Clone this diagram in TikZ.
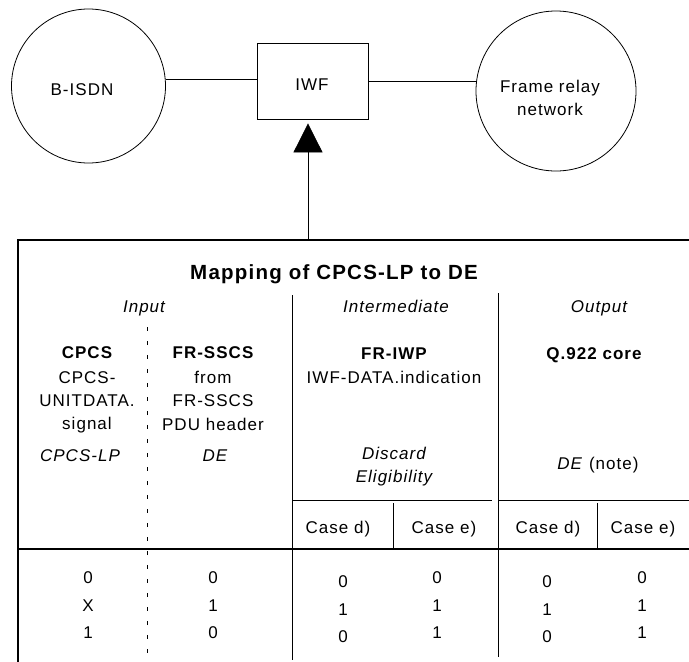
\documentclass[tikz,border=0pt]{standalone}
\usepackage{fontspec}
\setmainfont{Liberation Sans}[LetterSpace=6]
\usetikzlibrary{arrows.meta}

\begin{document}
\begin{tikzpicture}[x=1pt,y=-1pt,
  every node/.style={inner sep=0pt},
  lbl/.style={anchor=base, font=\fontsize{17}{20}\selectfont},
  lblb/.style={anchor=base, font=\fontsize{17}{20}\selectfont\bfseries},
  lbli/.style={anchor=base, font=\fontsize{17}{20}\selectfont\itshape},
  net/.style={draw, circle, line width=0.8pt},
  rule/.style={line width=1.1pt},
  thinrule/.style={line width=0.8pt},
  splitrule/.style={line width=0.8pt, dash pattern=on 4pt off 10pt},
]
\useasboundingbox (0,0) rectangle (689,662);

% --- networks and interworking function ---
\node[net, minimum size=154pt] (bisdn) at (88.5,86) {};
\node[lbl] (bisdntxt) at (82,95) {B-ISDN};
\node[draw, line width=0.8pt, minimum width=111pt, minimum height=76pt] (iwf) at (312.5,81) {};
\node[lbl] (iwftxt) at (312,90) {IWF};
\node[net, minimum size=160pt] (fr) at (556,91) {};
\node[lbl] (frtxta) at (550,92) {Frame relay};
\node[lbl] (frtxtb) at (550,115) {network};

\draw[thinrule] (bisdn.5) -- (bisdn.5 -| iwf.west);
\draw[thinrule] (iwf.east) -- (iwf.east -| fr.west);

\coordinate (foot) at (308,240);
\draw[thinrule, -{Triangle[length=29pt,width=29pt]}, shorten >=4pt] (foot) -- (foot |- iwf.south);

% --- mapping table rules ---
\draw[rule] (18,662) -- (18,240) -- (689,240);
\draw[rule] (18,549) -- (689,549);
\draw[thinrule] (292,295) -- (292,660);
\draw[thinrule] (498,293) -- (498,657);
\draw[thinrule] (292,500) -- (492,500);
\draw[thinrule] (498,500) -- (689,500);
\draw[thinrule] (393,503) -- (393,549);
\draw[thinrule] (597,503) -- (597,549);
\draw[splitrule] (147,327) -- (147,662);

% --- table heading ---
\node[anchor=base, font=\fontsize{20.5}{24}\selectfont\bfseries] (title) at (334,279) {Mapping of CPCS-LP to DE};
\node[lbli] (hin) at (144,312) {Input};
\node[lbli] (hmid) at (396,312) {Intermediate};
\node[lbli] (hout) at (599,312) {Output};

% input: CPCS column
\node[lblb] (ca) at (87,358) {CPCS};
\node[lbl] (cb) at (87,383) {CPCS-};
\node[lbl] (cc) at (87,406) {UNITDATA.};
\node[lbl] (cd) at (87,429) {signal};
\node[lbli] (ce) at (80,461) {CPCS-LP};

% input: FR-SSCS column
\node[lblb] (sa) at (213,358) {FR-SSCS};
\node[lbl] (sb) at (213,383) {from};
\node[lbl] (sc) at (213,406) {FR-SSCS};
\node[lbl] (sd) at (213,430) {PDU header};
\node[lbli] (se) at (215,461) {DE};

% intermediate
\node[lblb] (ma) at (394,359) {FR-IWP};
\node[lbl] (mb) at (394,383) {IWF-DATA.indication};
\node[lbli] (mc) at (394,459) {Discard};
\node[lbli] (md) at (394,482) {Eligibility};

% output
\node[lblb] (oa) at (594,359) {Q.922 core};
\node[lbl] (ob) at (598,469) {\textit{DE} (note)};

% cases
\node[lbl] (mcd) at (338,533) {Case d)};
\node[lbl] (mce) at (444,533) {Case e)};
\node[lbl] (ocd) at (548,533) {Case d)};
\node[lbl] (oce) at (643,533) {Case e)};

% --- values ---
\foreach \a/\b/\c/\d/\e/\f/\y [count=\i] in {0/0/0/0/0/0/583, X/1/1/1/1/1/611, 1/0/0/1/0/1/638} {
  \node[lbl] (va\i) at (88,\y) {\a};
  \node[lbl] (vb\i) at (213,\y) {\b};
  \node[lbl] (vc\i) at (343,\y+4) {\c};
  \node[lbl] (vd\i) at (437,\y) {\d};
  \node[lbl] (ve\i) at (547,\y+4) {\e};
  \node[lbl] (vf\i) at (642,\y) {\f};
}
\end{tikzpicture}
\end{document}
